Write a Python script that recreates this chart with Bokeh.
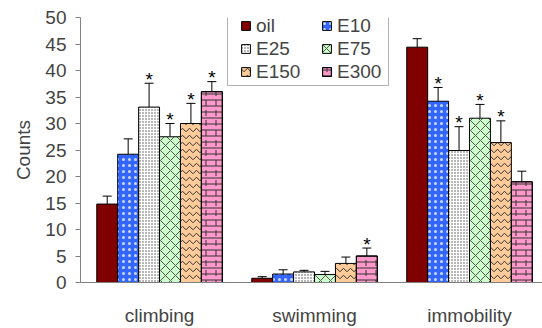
from bokeh.plotting import figure
from bokeh.models import (Range1d, FixedTicker, Legend, LegendItem, Whisker,
                          ColumnDataSource, TeeHead, BoxAnnotation)
from bokeh.core.properties import value
from bokeh.embed import file_html
from bokeh.resources import INLINE

categories = ["climbing", "swimming", "immobility"]
series = ["oil", "E10", "E25", "E75", "E150", "E300"]

oil = [14.8, 0.8, 44.4]
e10 = [24.2, 1.6, 34.2]
e25 = [33.1, 2.0, 24.9]
e75 = [27.5, 1.5, 31.0]
e150 = [30.0, 3.6, 26.4]
e300 = [36.0, 5.0, 19.0]

oil_sem = [1.5, 0.3, 1.6]
e10_sem = [2.9, 0.8, 2.6]
e25_sem = [4.5, 0.3, 4.5]
e75_sem = [2.5, 0.6, 2.6]
e150_sem = [3.8, 1.2, 4.1]
e300_sem = [1.9, 1.5, 2.0]

# significance flags (*) per series, per category
oil_sig = [False, False, False]
e10_sig = [False, False, True]
e25_sig = [True, False, True]
e75_sig = [True, False, True]
e150_sig = [True, False, True]
e300_sig = [True, True, False]

means = [oil, e10, e25, e75, e150, e300]
sems = [oil_sem, e10_sem, e25_sem, e75_sem, e150_sem, e300_sem]
sigs = [oil_sig, e10_sig, e25_sig, e75_sig, e150_sig, e300_sig]

styles = [
    dict(fill_color="#800000"),
    dict(fill_color="#3366FF", hatch_pattern="dot", hatch_color="white", hatch_scale=6, hatch_weight=0.5, hatch_alpha=0.75),
    dict(fill_color="#FFFFFF", hatch_pattern="dot", hatch_color="#4D4D4D", hatch_scale=3, hatch_weight=1.0),
    dict(fill_color="#CCFFCC", hatch_pattern="diagonal_cross", hatch_color="#555555", hatch_scale=10, hatch_weight=1),
    dict(fill_color="#FFCC99", hatch_pattern="horizontal_wave", hatch_color="#333333", hatch_scale=7, hatch_weight=1),
    dict(fill_color="#FF99CC", hatch_pattern="horizontal_line", hatch_color="#333333", hatch_scale=6, hatch_weight=1),
]

FONT = "Liberation Sans"
FS = "19px"
bar_w = 0.135

p = figure(width=542, height=328, output_backend="svg", toolbar_location=None,
           x_range=Range1d(-0.51, 2.471), y_range=Range1d(0, 50),
           min_border_left=80, min_border_top=17, min_border_bottom=46, min_border_right=0)
p.outline_line_color = None
p.xgrid.grid_line_color = None
p.ygrid.grid_line_color = None

items = []
for i, name in enumerate(series):
    xs = [c + (i - 2.5) * bar_w for c in range(len(categories))]
    src = ColumnDataSource(dict(x=xs, top=means[i],
                                upper=[m + s for m, s in zip(means[i], sems[i])]))
    r = p.vbar(x="x", top="top", bottom=0, width=bar_w, source=src,
               line_color="black", line_width=1, **styles[i])
    rends = [r]
    if name == "E300":
        r2 = p.vbar(x="x", top="top", bottom=0, width=bar_w, source=src,
                    fill_alpha=0, line_color="black", line_width=1,
                    hatch_pattern="vertical_dash", hatch_color="#333333", hatch_scale=10, hatch_weight=1)
        rends.append(r2)
    w = Whisker(base="x", lower="top", upper="upper", source=src, dimension="height",
                line_color="black", line_width=1,
                upper_head=TeeHead(size=9, line_color="black", line_width=1),
                lower_head=None)
    p.add_layout(w)
    sx = [x for x, s in zip(xs, sigs[i]) if s]
    sy = [m + e for m, e, s in zip(means[i], sems[i], sigs[i]) if s]
    if sx:
        p.text(x=sx, y=sy, text=["*"] * len(sx), text_align="center", text_baseline="alphabetic",
               y_offset=-4, text_font=value(FONT), text_font_size=FS, text_color="black")
    items.append(LegendItem(label=name, renderers=rends))

# legend frame (screen px, relative to the plot frame's bottom-left corner)
box = BoxAnnotation(left=147, right=308, top=269, bottom=197,
                    left_units="screen", right_units="screen", top_units="screen", bottom_units="screen",
                    fill_color="white", fill_alpha=1, line_color="black", line_width=1)
p.add_layout(box)

order = [0, 2, 4, 1, 3, 5]
legend = Legend(items=[items[k] for k in order], ncols=2, location=(159, 198),
                label_text_font=FONT, label_text_font_size=FS,
                glyph_width=11, glyph_height=11, label_standoff=5,
                label_height=23, label_width=65, spacing=0, padding=1,
                border_line_alpha=0, background_fill_alpha=0, margin=0)
p.add_layout(legend, "center")

p.xaxis.ticker = FixedTicker(ticks=list(range(len(categories))))
p.xaxis.major_label_overrides = {i: c for i, c in enumerate(categories)}
p.xaxis.major_tick_line_color = None
p.xaxis.major_tick_out = 0
p.xaxis.major_tick_in = 0
p.xaxis.minor_tick_line_color = None
p.xaxis.major_label_standoff = 22
p.xaxis.major_label_text_font = FONT
p.xaxis.major_label_text_font_size = FS
p.xaxis.axis_line_color = "#808080"

p.yaxis.ticker = FixedTicker(ticks=list(range(0, 51, 5)))
p.yaxis.minor_tick_line_color = None
p.yaxis.major_tick_in = 0
p.yaxis.major_tick_out = 5
p.yaxis.major_tick_line_color = "#808080"
p.yaxis.axis_line_color = "#808080"
p.yaxis.major_label_text_font = FONT
p.yaxis.major_label_text_font_size = FS
p.yaxis.major_label_standoff = 9
p.yaxis.axis_label = "Counts"
p.yaxis.axis_label_text_font = FONT
p.yaxis.axis_label_text_font_size = FS
p.yaxis.axis_label_text_font_style = "normal"
p.yaxis.axis_label_standoff = 8

open("out.html", "w").write(file_html(p, INLINE))
